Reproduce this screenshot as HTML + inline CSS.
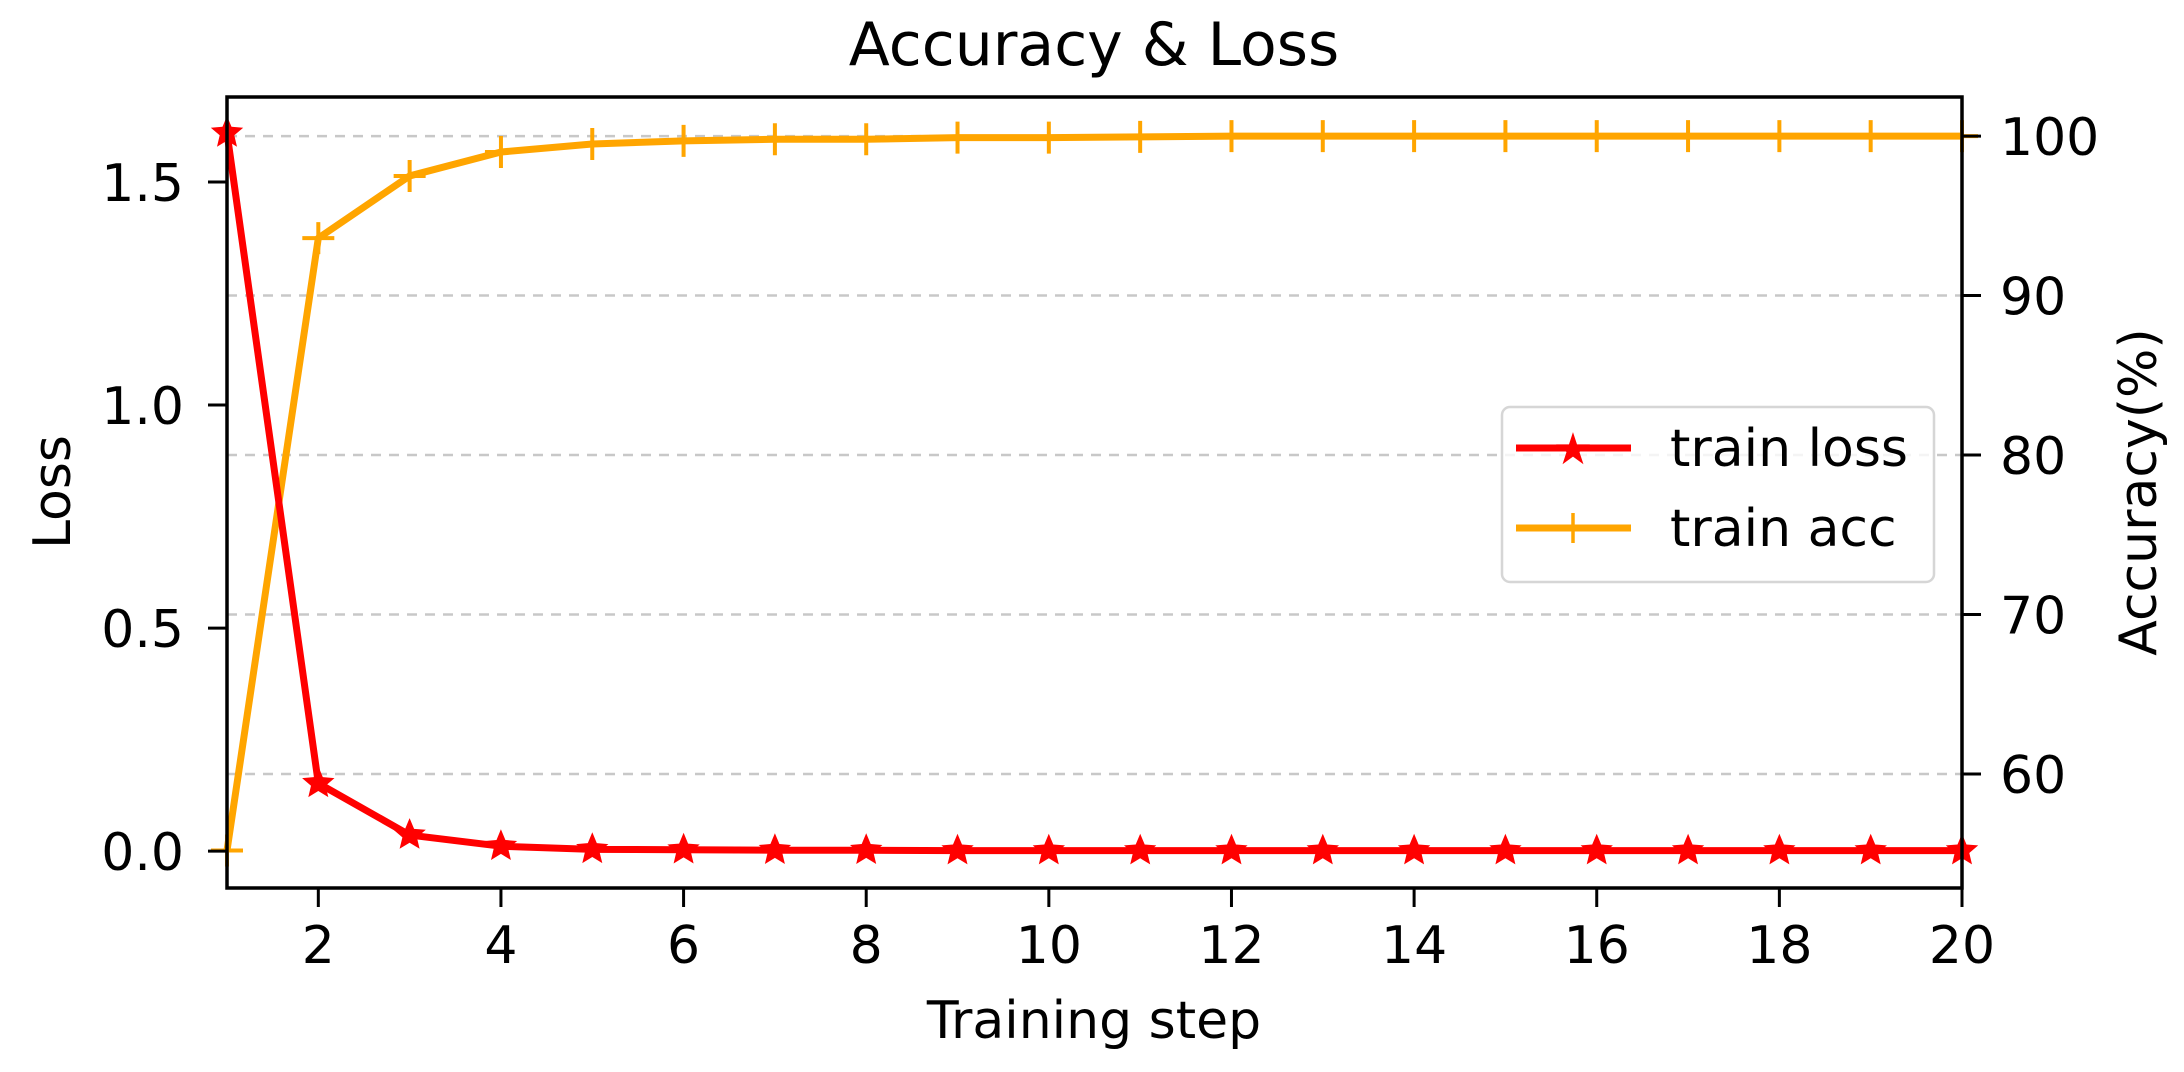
<!DOCTYPE html>
<html><head><meta charset="utf-8"><style>
html,body{margin:0;padding:0;background:#fff}
svg{display:block;font-family:"DejaVu Sans","Liberation Sans",sans-serif}
</style></head><body>
<svg id="chart" width="2184" height="1072" viewBox="0 0 2184 1072" xmlns="http://www.w3.org/2000/svg">
<rect width="2184" height="1072" fill="#fff"/>
<g id="grid"></g>
<g id="series"></g>
<g id="axes"></g>
<text x="1094" y="65" font-size="60" text-anchor="middle" fill="#000">Accuracy &amp; Loss</text>
<text x="1094" y="1038" font-size="52" text-anchor="middle" fill="#000">Training step</text>
<text x="0" y="0" font-size="52" text-anchor="middle" fill="#000" transform="translate(70,492) rotate(-90)">Loss</text>
<text x="0" y="0" font-size="52" text-anchor="middle" fill="#000" transform="translate(2156,492) rotate(-90)">Accuracy(%)</text>
<g>
<rect x="1502" y="407" width="432" height="175" rx="8" fill="#fff" fill-opacity="0.8" stroke="#d6d6d6" stroke-width="2.5"/>
<line x1="1516" y1="448" x2="1631" y2="448" stroke="#ff0000" stroke-width="7"/>
<text x="1573" y="464" font-size="44" text-anchor="middle" fill="#ff0000">★</text>
<text x="1670" y="466" font-size="52" fill="#000">train loss</text>
<line x1="1516" y1="528" x2="1631" y2="528" stroke="#ffa500" stroke-width="7"/>
<path d="M1573 513V543M1558 528H1588" stroke="#ffa500" stroke-width="3.5"/>
<text x="1670" y="546" font-size="52" fill="#000">train acc</text>
</g>
</svg>
<script>
const steps = [1,2,3,4,5,6,7,8,9,10,11,12,13,14,15,16,17,18,19,20];
const lossValues = [1.61,0.152,0.036,0.011,0.004,0.003,0.002,0.002,0.001,0.001,0.001,0.001,0.001,0.001,0.001,0.001,0.001,0.001,0.001,0.001];
const accValues = [55.2,93.6,97.5,99.0,99.5,99.7,99.8,99.8,99.9,99.9,99.95,100,100,100,100,100,100,100,100,100];
const xTicks = [2,4,6,8,10,12,14,16,18,20];
const lossTicks = [0.0,0.5,1.0,1.5];
const lossTickLabels = ["0.0","0.5","1.0","1.5"];
const accTicks = [60,70,80,90,100];
const accTickLabels = ["60","70","80","90","100"];

const L=227,R=1962,T=97,B=888;
const xMin=1,xMax=20,lMin=-0.0827,lMax=1.6906,aMin=52.85,aMax=102.45;
function xs(v){return L+(v-xMin)/(xMax-xMin)*(R-L);}
function yl(v){return B-(v-lMin)/(lMax-lMin)*(B-T);}
function ya(v){return B-(v-aMin)/(aMax-aMin)*(B-T);}
const NS='http://www.w3.org/2000/svg';
function mk(tag,attrs,parent){const e=document.createElementNS(NS,tag);for(const k in attrs)e.setAttribute(k,attrs[k]);parent.appendChild(e);return e;}
const grid=document.getElementById('grid'),series=document.getElementById('series'),axes=document.getElementById('axes');

accTicks.forEach((t,i)=>{
  const g=mk('line',{x1:L,x2:R,y1:ya(t),y2:ya(t),stroke:'#c8c8c8','stroke-width':2.5,'stroke-dasharray':'10 8'},grid);
  
  
});

const accLine=mk('polyline',{points:steps.map((s,i)=>xs(s)+','+ya(accValues[i])).join(' '),fill:'none',stroke:'#ffa500','stroke-width':7,'stroke-linejoin':'round'},series);


steps.forEach((s,i)=>{
  const x=xs(s),y=ya(accValues[i]);
  const m=mk('path',{d:`M${x} ${y-16}V${y+16}M${x-16} ${y}H${x+16}`,stroke:'#ffa500','stroke-width':4},series);
  
  
});
const lossLine=mk('polyline',{points:steps.map((s,i)=>xs(s)+','+yl(lossValues[i])).join(' '),fill:'none',stroke:'#ff0000','stroke-width':7,'stroke-linejoin':'round'},series);


function star(cx,cy,r){let p=[];for(let k=0;k<10;k++){const a=-Math.PI/2+k*Math.PI/5;const rr=k%2?r*0.45:r;p.push((cx+rr*Math.cos(a)).toFixed(1)+','+(cy+rr*Math.sin(a)).toFixed(1));}return p.join(' ');}
steps.forEach((s,i)=>{
  const m=mk('polygon',{points:star(xs(s),yl(lossValues[i]),17),fill:'#ff0000'},series);
  
  
});

const frame=mk('rect',{x:L,y:T,width:R-L,height:B-T,fill:'none',stroke:'#000','stroke-width':3.5},axes);


xTicks.forEach(t=>{
  const x=xs(t);
  const tk=mk('line',{x1:x,x2:x,y1:B,y2:B+19,stroke:'#000','stroke-width':3},axes);
  
  
  const tx=mk('text',{x:x,y:963,'font-size':52,'text-anchor':'middle',fill:'#000'},axes);
  tx.textContent=t;
  
  
});
lossTicks.forEach((t,i)=>{
  const y=yl(t);
  const tk=mk('line',{x1:L-19,x2:L,y1:y,y2:y,stroke:'#000','stroke-width':3},axes);
  
  
  const tx=mk('text',{x:184,y:y+19,'font-size':52,'text-anchor':'end',fill:'#000'},axes);
  tx.textContent=lossTickLabels[i];
  
  
});
accTicks.forEach((t,i)=>{
  const y=ya(t);
  const tk=mk('line',{x1:R,x2:R+19,y1:y,y2:y,stroke:'#000','stroke-width':3},axes);
  
  
  const tx=mk('text',{x:2000,y:y+19,'font-size':52,'text-anchor':'start',fill:'#000'},axes);
  tx.textContent=accTickLabels[i];
  
  
});
</script>
</body></html>
